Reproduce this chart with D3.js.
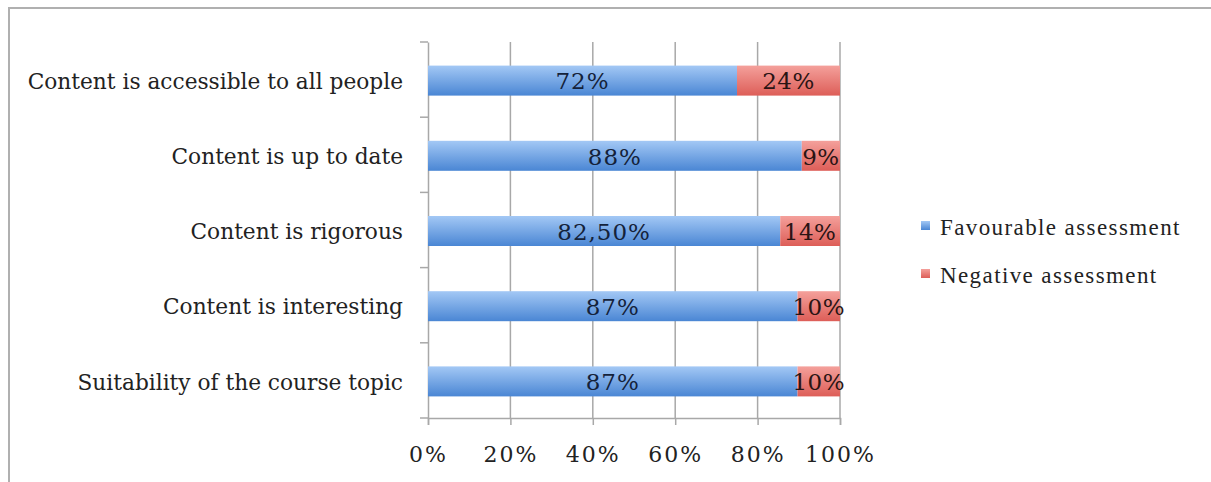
<!DOCTYPE html>
<html>
<head>
<meta charset="utf-8">
<script src="https://cdn.jsdelivr.net/npm/d3@7"></script>
<style>
  body { margin: 0; background: #fff; }
</style>
</head>
<body>
<div id="chart"></div>
<script>
var categories = [
  'Content is accessible to all people',
  'Content is up to date',
  'Content is rigorous',
  'Content is interesting',
  'Suitability of the course topic'
];
var favourable = [72, 88, 82.5, 87, 87];
var negative = [24, 9, 14, 10, 10];
var favLabels = ['72%', '88%', '82,50%', '87%', '87%'];
var negLabels = ['24%', '9%', '14%', '10%', '10%'];
var seriesNames = ['Favourable assessment', 'Negative assessment'];
var xTicks = [0, 0.2, 0.4, 0.6, 0.8, 1];

var W = 1211, H = 482;
var pLeft = 428, pRight = 840, pTop = 42, pBottom = 418;
var serif = '"DejaVu Serif", serif';

var svg = d3.select('#chart')
  .append('svg')
  .attr('width', W)
  .attr('height', H);

var defs = svg.append('defs');
var gb = defs.append('linearGradient').attr('id', 'gBlue')
  .attr('x1', 0).attr('y1', 0).attr('x2', 0).attr('y2', 1);
gb.append('stop').attr('offset', '0%').attr('stop-color', '#a3c8f5');
gb.append('stop').attr('offset', '100%').attr('stop-color', '#4a86d4');
var gr = defs.append('linearGradient').attr('id', 'gRed')
  .attr('x1', 0).attr('y1', 0).attr('x2', 0).attr('y2', 1);
gr.append('stop').attr('offset', '0%').attr('stop-color', '#f4a09b');
gr.append('stop').attr('offset', '100%').attr('stop-color', '#dd5e58');

// frame
svg.append('rect')
  .attr('x', 9).attr('y', 8)
  .attr('width', W).attr('height', H)
  .style('fill', 'none')
  .style('stroke', '#b0b0b0')
  .style('stroke-width', 2);

var x = d3.scaleLinear().domain([0, 1]).range([pLeft, pRight]);
var y = d3.scaleBand().domain(categories).range([pTop, pBottom]);

// gridlines
svg.append('g')
  .selectAll('line')
  .data(xTicks.slice(1))
  .enter()
  .append('line')
  .attr('x1', function(d) { return x(d); })
  .attr('x2', function(d) { return x(d); })
  .attr('y1', pTop)
  .attr('y2', pBottom)
  .style('stroke', '#a8a8a8')
  .style('stroke-width', 1.5);

// x axis
var xAxis = svg.append('g')
  .attr('transform', 'translate(0,' + pBottom + ')')
  .call(d3.axisBottom(x).tickValues(xTicks).tickFormat(d3.format('.0%')).tickSize(7).tickPadding(21));
xAxis.select('.domain').style('stroke', '#a8a8a8').style('stroke-width', 1.5);
xAxis.selectAll('line').style('stroke', '#a8a8a8').style('stroke-width', 1.5);
xAxis.selectAll('text')
  .style('font-family', serif)
  .style('font-size', '22px')
  .style('letter-spacing', '2px')
  .style('fill', '#222');

// y axis
var yAxis = svg.append('g')
  .attr('transform', 'translate(' + pLeft + ',0)')
  .call(d3.axisLeft(y).tickSize(0).tickPadding(25));
yAxis.select('.domain').style('stroke', '#a8a8a8').style('stroke-width', 1.5);
yAxis.selectAll('text')
  .attr('dy', '0.42em')
  .style('font-family', serif)
  .style('font-size', '21.7px')
  .style('fill', '#222');

// y ticks between bands
var bounds = categories.map(function(c) { return y(c); }).concat([pBottom]);
svg.append('g')
  .selectAll('line')
  .data(bounds)
  .enter()
  .append('line')
  .attr('x1', pLeft - 8)
  .attr('x2', pLeft)
  .attr('y1', function(d) { return d; })
  .attr('y2', function(d) { return d; })
  .style('stroke', '#a8a8a8')
  .style('stroke-width', 1.5);

var rows = categories.map(function(c, i) {
  var tot = favourable[i] + negative[i];
  return { cat: c, f: favourable[i] / tot, n: negative[i] / tot, fl: favLabels[i], nl: negLabels[i] };
});

var bh = 30;
var g = svg.append('g');
g.selectAll('.fav')
  .data(rows)
  .enter()
  .append('rect')
  .attr('x', x(0))
  .attr('y', function(d) { return y(d.cat) + y.bandwidth() / 2 - bh / 2 + 1; })
  .attr('width', function(d) { return x(d.f) - x(0); })
  .attr('height', bh)
  .style('fill', 'url(#gBlue)');

g.selectAll('.neg')
  .data(rows)
  .enter()
  .append('rect')
  .attr('x', function(d) { return x(d.f); })
  .attr('y', function(d) { return y(d.cat) + y.bandwidth() / 2 - bh / 2 + 1; })
  .attr('width', function(d) { return x(1) - x(d.f); })
  .attr('height', bh)
  .style('fill', 'url(#gRed)');

g.selectAll('.flab')
  .data(rows)
  .enter()
  .append('text')
  .attr('x', function(d) { return (x(0) + x(d.f)) / 2; })
  .attr('y', function(d) { return y(d.cat) + y.bandwidth() / 2 + 1; })
  .attr('dy', '0.38em')
  .attr('text-anchor', 'middle')
  .style('font-family', serif)
  .style('font-size', '23px')
  .style('letter-spacing', '1px')
  .style('fill', '#14223a')
  .text(function(d) { return d.fl; });

g.selectAll('.nlab')
  .data(rows)
  .enter()
  .append('text')
  .attr('x', function(d) { return (x(d.f) + x(1)) / 2; })
  .attr('y', function(d) { return y(d.cat) + y.bandwidth() / 2 + 1; })
  .attr('dy', '0.38em')
  .attr('text-anchor', 'middle')
  .style('font-family', serif)
  .style('font-size', '23px')
  .style('letter-spacing', '0.5px')
  .style('fill', '#2a1414')
  .text(function(d) { return d.nl; });

// legend
var legend = svg.append('g')
  .selectAll('g')
  .data(seriesNames)
  .enter()
  .append('g')
  .attr('transform', function(d, i) { return 'translate(921,' + (228 + i * 48) + ')'; });
legend.append('rect')
  .attr('x', 0).attr('y', -7)
  .attr('width', 9).attr('height', 9)
  .style('fill', function(d, i) { return i === 0 ? 'url(#gBlue)' : 'url(#gRed)'; });
legend.append('text')
  .attr('x', 19)
  .attr('y', 0)
  .attr('dy', '0.3em')
  .style('font-family', '"Liberation Serif", serif')
  .style('font-size', '23px')
  .style('letter-spacing', '1.4px')
  .style('fill', '#222')
  .text(function(d) { return d; });
</script>
</body>
</html>
